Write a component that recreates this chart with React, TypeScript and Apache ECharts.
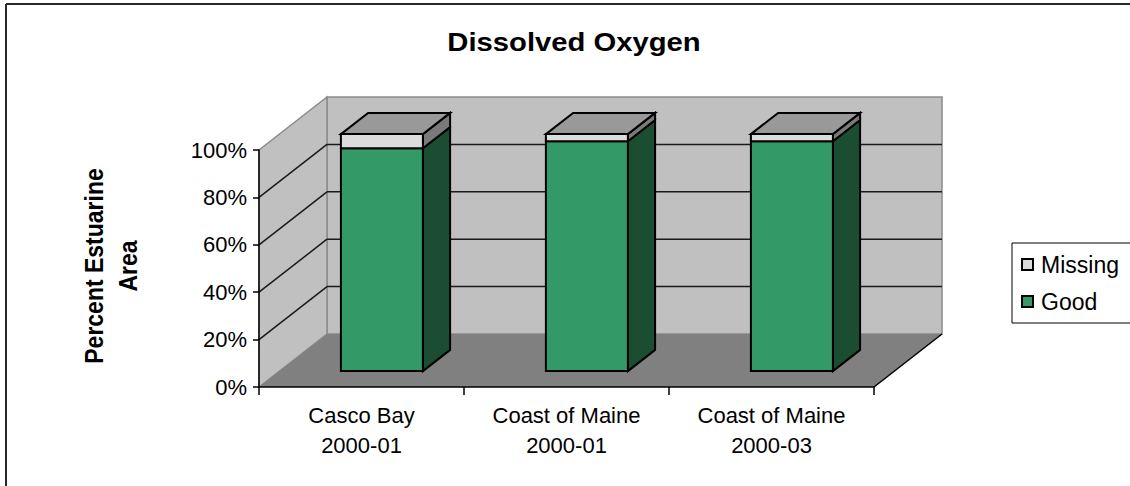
import React, { useEffect, useRef } from "react";
import * as echarts from "echarts";

// Chart data
const categories = ["Casco Bay\n2000-01", "Coast of Maine\n2000-01", "Coast of Maine\n2000-03"];
const goodValues = [94, 97, 97];
const missingValues = [6, 3, 3];
const yTicks = [0, 20, 40, 60, 80, 100];

const FONT = "'Liberation Sans', Arial, sans-serif";

// Oblique projection of the 3D box: full depth vector
const DX = 68;
const DY = -53;
// Bars sit partway into the depth
const FRONT_F = 0.3;
const BAR_F = 0.4;
const FDX = DX * FRONT_F;
const FDY = DY * FRONT_F;
const BDX = DX * BAR_F;
const BDY = DY * BAR_F;

const GOOD_FRONT = "#339966";
const GOOD_SIDE = "#1b4d33";
const MISS_FRONT = "#dcdcdc";
const MISS_SIDE = "#7a7a7a";
const MISS_TOP = "#999999";

function barRenderer(front: string, side: string, top: string | null) {
  return (params: any, api: any) => {
    const cat = api.value(0);
    const base = api.value(1);
    const val = api.value(2);
    const p0 = api.coord([cat, base]);
    const p1 = api.coord([cat, base + val]);
    const bw = api.size([1, 0])[0] * 0.4;
    const x0 = p0[0] - bw / 2 + FDX;
    const x1 = x0 + bw;
    const yb = p0[1] + FDY;
    const yt = p1[1] + FDY;
    const stroke = { stroke: "#000", lineWidth: 2, lineJoin: "miter" };
    const children: any[] = [
      {
        type: "polygon",
        shape: { points: [[x1, yt], [x1 + BDX, yt + BDY], [x1 + BDX, yb + BDY], [x1, yb]] },
        style: { fill: side, ...stroke },
      },
      {
        type: "rect",
        shape: { x: x0, y: yt, width: bw, height: yb - yt },
        style: { fill: front, ...stroke },
      },
    ];
    if (top) {
      children.push({
        type: "polygon",
        shape: { points: [[x0, yt], [x0 + BDX, yt + BDY], [x1 + BDX, yt + BDY], [x1, yt]] },
        style: { fill: top, ...stroke },
      });
    }
    return { type: "group", children };
  };
}

function wallsRenderer(params: any, api: any) {
  const cs = params.coordSys;
  const gx = cs.x;
  const gy = cs.y;
  const gw = cs.width;
  const gh = cs.height;
  const children: any[] = [
    {
      type: "rect",
      shape: { x: gx + DX, y: gy + DY, width: gw, height: gh },
      style: { fill: "#c0c0c0", stroke: "#8a8a8a", lineWidth: 1.5 },
    },
    {
      type: "polygon",
      shape: { points: [[gx, gy], [gx + DX, gy + DY], [gx + DX, gy + gh + DY], [gx, gy + gh]] },
      style: { fill: "#c0c0c0", stroke: "#8a8a8a", lineWidth: 1.5 },
    },
    {
      type: "polygon",
      shape: {
        points: [[gx, gy + gh], [gx + DX, gy + gh + DY], [gx + gw + DX, gy + gh + DY], [gx + gw, gy + gh]],
      },
      style: { fill: "#808080", stroke: "none" },
    },
    {
      type: "line",
      shape: { x1: gx + gw, y1: gy + gh, x2: gx + gw + DX, y2: gy + gh + DY },
      style: { stroke: "#000", lineWidth: 1.5 },
    },
  ];
  yTicks.forEach((v) => {
    if (v === 0 || v === 100) return;
    const y = api.coord([0, v])[1];
    children.push({
      type: "line",
      shape: { x1: gx, y1: y, x2: gx + DX, y2: y + DY },
      style: { stroke: "#1a1a1a", lineWidth: 1.5 },
    });
    children.push({
      type: "line",
      shape: { x1: gx + DX, y1: y + DY, x2: gx + gw + DX, y2: y + DY },
      style: { stroke: "#1a1a1a", lineWidth: 1.5 },
    });
  });
  return { type: "group", children };
}

export default function App() {
  const ref = useRef<HTMLDivElement>(null);

  useEffect(() => {
    document.body.style.margin = "0";
    if (!ref.current) return;
    const chart = echarts.init(ref.current, null, { renderer: "svg" });

    const goodData = goodValues.map((v, i) => [i, 0, v]);
    const missingData = missingValues.map((v, i) => [i, goodValues[i], v]);

    chart.setOption({
      animation: false,
      backgroundColor: "#ffffff",
      textStyle: { fontFamily: FONT },
      grid: { left: 259, top: 150, width: 615, height: 237, containLabel: false },
      legend: {
        data: ["Missing", "Good"],
        orient: "vertical",
        left: 1012,
        top: 243,
        icon: "rect",
        itemWidth: 11,
        itemHeight: 11,
        itemGap: 14,
        padding: [10, 20, 10, 9],
        borderColor: "#000",
        borderWidth: 1,
        itemStyle: { borderColor: "#000", borderWidth: 2 },
        textStyle: { fontFamily: FONT, fontSize: 23, color: "#000", padding: [0, 0, 0, 3] },
        selectedMode: false,
      },
      xAxis: {
        type: "category",
        data: categories,
        z: 5,
        axisLine: { show: true, lineStyle: { color: "#000", width: 1.5 } },
        axisTick: { show: true, length: 8, lineStyle: { color: "#000", width: 1.5 } },
        axisLabel: {
          fontFamily: FONT,
          fontSize: 22,
          lineHeight: 30,
          color: "#000",
          margin: 13,
        },
        splitLine: { show: false },
      },
      yAxis: {
        type: "value",
        min: 0,
        max: 100,
        interval: 20,
        z: 5,
        axisLine: { show: true, lineStyle: { color: "#000", width: 1.5 } },
        axisTick: { show: true, length: 6, lineStyle: { color: "#000", width: 1.5 } },
        axisLabel: {
          formatter: "{value}%",
          fontFamily: FONT,
          fontSize: 22,
          color: "#000",
          margin: 12,
        },
        splitLine: { show: false },
      },
      graphic: [
        {
          type: "line",
          shape: { x1: 6, y1: 4, x2: 1130, y2: 4 },
          style: { stroke: "#2a2a2a", lineWidth: 2 },
        },
        {
          type: "line",
          shape: { x1: 6, y1: 4, x2: 6, y2: 486 },
          style: { stroke: "#2a2a2a", lineWidth: 2 },
        },
        {
          type: "text",
          x: 574,
          y: 42,
          scaleX: 1.17,
          style: {
            text: "Dissolved Oxygen",
            font: `bold 25px ${FONT}`,
            fill: "#000",
            align: "center",
            verticalAlign: "middle",
          },
        },
        {
          type: "text",
          x: 111,
          y: 266,
          rotation: Math.PI / 2,
          scaleY: 1.12,
          style: {
            text: "Percent Estuarine\nArea",
            font: `bold 23px ${FONT}`,
            lineHeight: 30,
            fill: "#000",
            align: "center",
            verticalAlign: "middle",
          },
        },
      ],
      series: [
        {
          type: "custom",
          name: "walls",
          z: 1,
          silent: true,
          data: [[0, 0]],
          renderItem: wallsRenderer,
        },
        {
          type: "custom",
          name: "Good",
          z: 2,
          itemStyle: { color: GOOD_FRONT },
          encode: { x: 0, y: [1, 2] },
          data: goodData,
          renderItem: barRenderer(GOOD_FRONT, GOOD_SIDE, null),
        },
        {
          type: "custom",
          name: "Missing",
          z: 3,
          itemStyle: { color: MISS_FRONT },
          encode: { x: 0, y: [1, 2] },
          data: missingData,
          renderItem: barRenderer(MISS_FRONT, MISS_SIDE, MISS_TOP),
        },
      ],
    });

    return () => chart.dispose();
  }, []);

  return <div ref={ref} style={{ width: 1130, height: 486 }} />;
}
